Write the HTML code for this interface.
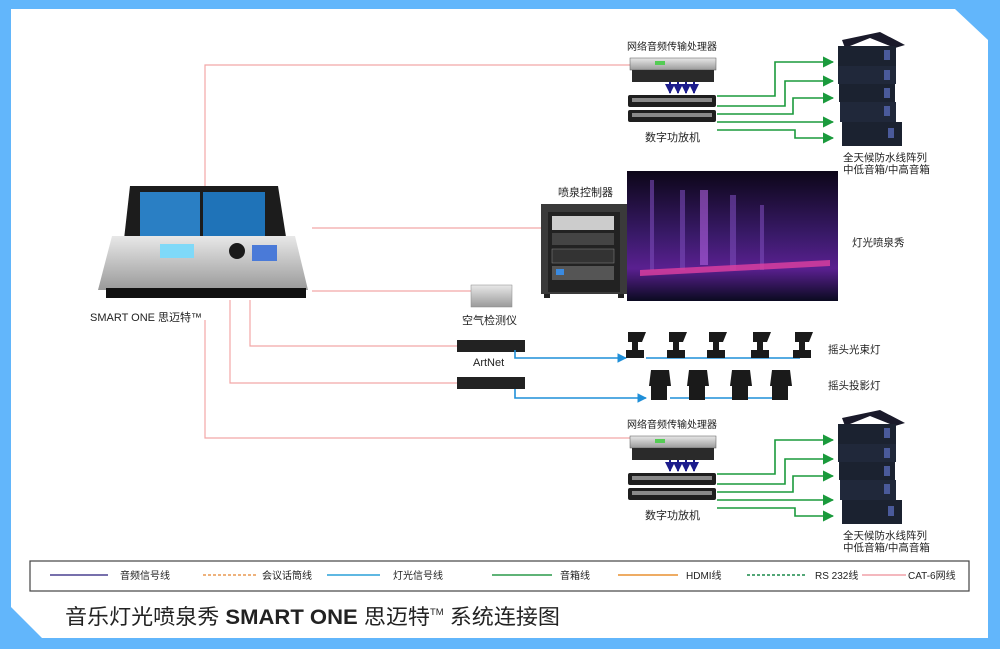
<!DOCTYPE html>
<html><head><meta charset="utf-8"><style>
html,body{margin:0;padding:0;background:#fff}
svg{display:block}
text{font-family:"Liberation Sans","Noto Sans CJK SC",sans-serif;fill:#222}
</style></head><body>
<svg width="1000" height="649" viewBox="0 0 1000 649" xmlns="http://www.w3.org/2000/svg">
<defs>
<linearGradient id="silver" x1="0" y1="0" x2="0" y2="1"><stop offset="0" stop-color="#e8e8e8"/><stop offset="1" stop-color="#9a9a9a"/></linearGradient>
<linearGradient id="fount" x1="0" y1="0" x2="0" y2="1"><stop offset="0" stop-color="#0c0618"/><stop offset="0.5" stop-color="#3a1a6a"/><stop offset="0.75" stop-color="#5a2090"/><stop offset="1" stop-color="#0a0a20"/></linearGradient>
<marker id="ag" viewBox="0 0 10 10" refX="9" refY="5" markerWidth="7" markerHeight="7" orient="auto"><path d="M0 0L10 5L0 10z" fill="#1a9a3c"/></marker>
<marker id="ab" viewBox="0 0 10 10" refX="9" refY="5" markerWidth="6" markerHeight="6" orient="auto"><path d="M0 0L10 5L0 10z" fill="#1f8fd8"/></marker>
<marker id="an" viewBox="0 0 10 10" refX="9" refY="5" markerWidth="5" markerHeight="5" orient="auto"><path d="M0 0L10 5L0 10z" fill="#1c1c8c"/></marker>
<g id="audio">
<text x="627" y="50" font-size="10">网络音频传输处理器</text>
<rect x="630" y="58" width="86" height="12" fill="url(#silver)" stroke="#555" stroke-width="0.5"/>
<rect x="655" y="61" width="10" height="4" fill="#5c5"/>
<rect x="632" y="70" width="82" height="12" fill="#2a2a2a"/>
<g stroke="#1c1c8c" stroke-width="2" marker-end="url(#an)"><line x1="670" y1="82" x2="670" y2="93"/><line x1="678" y1="82" x2="678" y2="93"/><line x1="686" y1="82" x2="686" y2="93"/><line x1="694" y1="82" x2="694" y2="93"/></g>
<rect x="628" y="95" width="88" height="12" rx="2" fill="#1e1e1e"/><rect x="632" y="98" width="80" height="4" fill="#888"/>
<rect x="628" y="110" width="88" height="12" rx="2" fill="#1e1e1e"/><rect x="632" y="113" width="80" height="4" fill="#888"/>
<text x="645" y="141" font-size="11">数字功放机</text>
<g stroke="#1a9a3c" stroke-width="1.6" fill="none" marker-end="url(#ag)">
<polyline points="717,96 775,96 775,62 833,62"/>
<polyline points="717,106 785,106 785,81 833,81"/>
<polyline points="717,114 793,114 793,98 833,98"/>
<polyline points="717,122 833,122"/>
<polyline points="717,130 795,130 795,138 833,138"/>
</g>
<path d="M842 40 L880 32 L905 45 L895 48 L870 38 L845 48z" fill="#1a1a2a"/>
<rect x="838" y="46" width="58" height="20" fill="#1b2230"/>
<rect x="838" y="66" width="58" height="18" fill="#20283a"/>
<rect x="839" y="84" width="56" height="18" fill="#1b2230"/>
<rect x="840" y="102" width="56" height="20" fill="#20283a"/>
<rect x="842" y="122" width="60" height="24" fill="#1b2230"/>
<g fill="#4a5a9a"><rect x="884" y="50" width="6" height="10"/><rect x="884" y="70" width="6" height="10"/><rect x="884" y="88" width="6" height="10"/><rect x="884" y="106" width="6" height="10"/><rect x="888" y="128" width="6" height="10"/></g>
<text x="843" y="161" font-size="10.5">全天候防水线阵列</text>
<text x="843" y="173" font-size="10.5">中低音箱/中高音箱</text>
</g>
</defs>
<rect width="1000" height="649" fill="#62b6fb"/>
<path d="M11 9 L955 9 L988 40 L988 638 L42 638 L11 607 Z" fill="#fff"/>
<g stroke="#f2a6a6" stroke-width="1.2" fill="none">
<polyline points="205,187 205,65 630,65"/>
<line x1="312" y1="228" x2="541" y2="228"/>
<line x1="312" y1="291" x2="472" y2="291"/>
<polyline points="250,300 250,346 457,346"/>
<polyline points="230,300 230,383 457,383"/>
<polyline points="205,320 205,438 630,438"/>
</g>
<path d="M130 186 L278 186 L292 275 L120 275z" fill="#1c1c1c"/>
<rect x="140" y="192" width="60" height="44" fill="#2a7fc4"/>
<rect x="203" y="192" width="62" height="44" fill="#1f73b8"/>
<path d="M112 236 L295 236 L308 290 L98 290z" fill="url(#silver)"/>
<rect x="160" y="244" width="34" height="14" fill="#7fd9f8"/>
<circle cx="237" cy="251" r="8" fill="#1a1a1a"/>
<rect x="252" y="245" width="25" height="16" fill="#4a7ad8"/>
<rect x="106" y="288" width="200" height="10" fill="#111"/>
<text x="90" y="321" font-size="11">SMART ONE 思迈特™</text>
<use href="#audio"/>
<use href="#audio" y="378"/>
<text x="558" y="196" font-size="11">喷泉控制器</text>
<rect x="541" y="204" width="86" height="90" fill="#3a3a3a"/>
<rect x="548" y="212" width="72" height="80" fill="#222"/>
<rect x="552" y="216" width="62" height="14" fill="#ccc"/>
<rect x="552" y="233" width="62" height="12" fill="#444"/>
<rect x="552" y="249" width="62" height="14" fill="#333" stroke="#888" stroke-width="0.5"/>
<rect x="552" y="266" width="62" height="14" fill="#555"/>
<rect x="556" y="269" width="8" height="6" fill="#3a8ae0"/>
<rect x="544" y="294" width="6" height="4" fill="#222"/><rect x="618" y="294" width="6" height="4" fill="#222"/>
<rect x="627" y="171" width="211" height="130" fill="url(#fount)"/>
<g fill="#7a4ab8" opacity="0.6"><rect x="650" y="180" width="4" height="90"/><rect x="680" y="190" width="5" height="80"/><rect x="730" y="195" width="6" height="75"/><rect x="760" y="205" width="4" height="65"/></g>
<rect x="700" y="190" width="8" height="75" fill="#b060e0" opacity="0.6"/>
<path d="M640 270 L830 260 L830 266 L640 276z" fill="#e040a0" opacity="0.8"/>
<text x="852" y="246" font-size="10.5">灯光喷泉秀</text>
<rect x="471" y="285" width="41" height="22" fill="url(#silver)" stroke="#888" stroke-width="0.5"/>
<text x="462" y="324" font-size="11">空气检测仪</text>
<rect x="457" y="340" width="68" height="12" fill="#222"/>
<text x="473" y="366" font-size="11">ArtNet</text>
<rect x="457" y="377" width="68" height="12" fill="#222"/>
<g stroke="#1f8fd8" stroke-width="1.6" fill="none">
<polyline points="515,350 515,358 626,358" marker-end="url(#ab)"/>
<polyline points="515,389 515,398 646,398" marker-end="url(#ab)"/>
<line x1="646" y1="358" x2="800" y2="358"/>
<line x1="670" y1="398" x2="780" y2="398"/>
</g>
<g fill="#1a1a1a">
<path d="M628 332 h18 l-4 10 h-4 v8 h6 v8 h-18 v-8 h6 v-8 h-4z"/>
<path d="M669 332 h18 l-4 10 h-4 v8 h6 v8 h-18 v-8 h6 v-8 h-4z"/>
<path d="M709 332 h18 l-4 10 h-4 v8 h6 v8 h-18 v-8 h6 v-8 h-4z"/>
<path d="M753 332 h18 l-4 10 h-4 v8 h6 v8 h-18 v-8 h6 v-8 h-4z"/>
<path d="M795 332 h18 l-4 10 h-4 v8 h6 v8 h-18 v-8 h6 v-8 h-4z"/>
<path d="M651 370 h18 l2 16 h-4 v14 h-16 v-14 h-2z"/>
<path d="M689 370 h18 l2 16 h-4 v14 h-16 v-14 h-2z"/>
<path d="M732 370 h18 l2 16 h-4 v14 h-16 v-14 h-2z"/>
<path d="M772 370 h18 l2 16 h-4 v14 h-16 v-14 h-2z"/>
</g>
<text x="828" y="353" font-size="10.5">摇头光束灯</text>
<text x="828" y="389" font-size="10.5">摇头投影灯</text>
<rect x="30" y="561" width="939" height="30" fill="#fff" stroke="#444" stroke-width="1.2"/>
<g stroke-width="1.5">
<line x1="50" y1="575" x2="108" y2="575" stroke="#4a4090"/>
<line x1="203" y1="575" x2="258" y2="575" stroke="#e89850" stroke-dasharray="3,2"/>
<line x1="327" y1="575" x2="380" y2="575" stroke="#2aa0d8"/>
<line x1="492" y1="575" x2="552" y2="575" stroke="#2a9a4a"/>
<line x1="618" y1="575" x2="678" y2="575" stroke="#e89030"/>
<line x1="747" y1="575" x2="806" y2="575" stroke="#1a8a4a" stroke-dasharray="3,2"/>
<line x1="862" y1="575" x2="906" y2="575" stroke="#f0a0a8"/>
</g>
<g font-size="10">
<text x="120" y="579">音频信号线</text>
<text x="262" y="579">会议话筒线</text>
<text x="393" y="579">灯光信号线</text>
<text x="560" y="579">音箱线</text>
<text x="686" y="579">HDMI线</text>
<text x="815" y="579">RS 232线</text>
<text x="908" y="579">CAT-6网线</text>
</g>
<text x="65" y="624" font-size="21" textLength="495" lengthAdjust="spacingAndGlyphs">音乐灯光喷泉秀 <tspan font-weight="bold">SMART ONE</tspan> 思迈特<tspan font-size="9" dy="-9">TM</tspan><tspan dy="9"> 系统连接图</tspan></text>
</svg>
</body></html>
